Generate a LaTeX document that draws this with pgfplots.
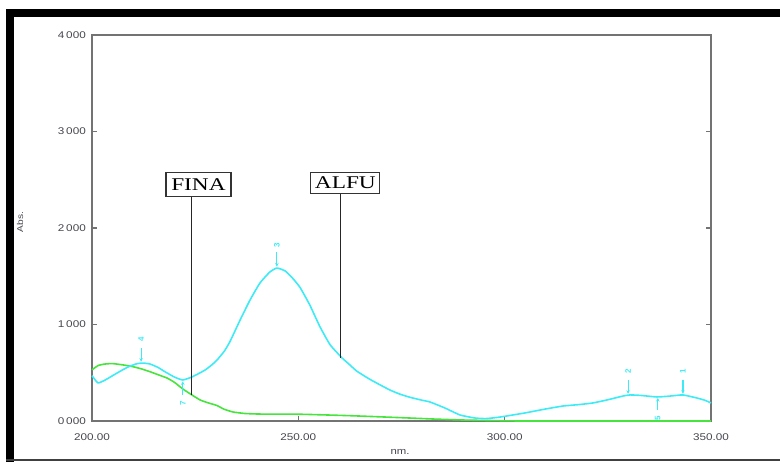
\documentclass[border=0pt]{standalone}
\usepackage{pgfplots}
\pgfplotsset{compat=1.18}
\usepackage{fontspec}
\usepackage{graphicx}
\setmainfont{Liberation Sans}
\newfontfamily\timesf{Liberation Serif}
\usetikzlibrary{arrows.meta}
\definecolor{cy}{RGB}{60,235,245}
\definecolor{gr}{RGB}{70,228,60}
\definecolor{fr}{RGB}{115,115,115}
\definecolor{tl}{RGB}{70,70,80}

\pgfplotstableread{
nm val
200.0 470
201.4 395
203.0 420
205.0 470
207.0 520
209.0 565
211.0 595
212.5 600
214.1 590
216.0 555
217.7 510
220.0 455
222.0 425
224.2 456
226.0 495
227.4 528
229.0 580
230.3 632
232.0 720
233.4 820
235.9 1047
238.3 1254
240.7 1430
243.1 1544
244.8 1585
246.8 1555
248.5 1485
250.4 1385
252.8 1200
255.2 980
257.7 790
260.6 653
262.0 600
264.0 522
265.8 472
267.4 430
270.0 370
272.2 321
274.5 280
277.1 245
280.0 215
281.9 197
285.5 135
289.2 62
292.8 31
295.5 25
298.9 41
304.9 83
306.1 93
310.0 125
314.1 155
318.0 170
321.4 187
325.0 220
328.7 259
330.4 270
333.0 265
336.9 249
340.0 258
343.2 270
346.6 238
348.5 215
350.0 187
}\alfu

\pgfplotstableread{
nm val
200.0 530
201.5 575
203.1 590
205.0 595
208.0 578
210.0 562
212.0 540
214.1 510
216.0 480
218.2 445
220.0 400
222.0 332
224.2 270
226.2 218
228.0 190
230.3 160
232.0 122
234.2 93
237.0 78
240.7 72
250.4 70
262.5 55
274.6 35
283.0 20
290.0 10
298.9 3
305.0 0
350.0 0
}\fina

\begin{document}
\begin{tikzpicture}[x=1bp,y=1bp]
\useasboundingbox (0,0) rectangle (780,464);
\fill[black] (6,447) rectangle (780,455);
\fill[black] (6,2) rectangle (14,455);
\fill[black!75] (6,2.5) rectangle (780,4.5);
\begin{axis}[
  at={(92bp,43bp)}, anchor=south west, scale only axis,
  width=619bp, height=386bp,
  xmin=200, xmax=350, ymin=0, ymax=4000,
  xtick={200,250,300,350},
  xticklabels={\scalebox{1.2}[1]{200.00},\scalebox{1.2}[1]{250.00},\scalebox{1.2}[1]{300.00},\scalebox{1.2}[1]{350.00}},
  ytick={0,1000,2000,3000,4000},
  yticklabels={\scalebox{1.2}[1]{0\,000},\scalebox{1.2}[1]{1\,000},\scalebox{1.2}[1]{2\,000},\scalebox{1.2}[1]{3\,000},\scalebox{1.2}[1]{4\,000}},
  tick align=inside, xtick pos=bottom, ytick pos=both,
  major tick length=5bp,
  axis line style={fr, line width=1.4bp},
  tick style={fr, line width=1.2bp},
  xticklabel style={font=\fontsize{9.8}{10}\selectfont, text=tl, anchor=north, inner sep=0pt, yshift=-12bp},
  yticklabel style={font=\fontsize{9.8}{10}\selectfont, text=tl, anchor=east, inner sep=0pt, xshift=-6bp},
  clip=false,
]
\addplot[gr, line width=1.6bp, line join=round, smooth, tension=0.3] table[x=nm, y=val] {\fina};
\addplot[cy, line width=1.6bp, line join=round, smooth, tension=0.3] table[x=nm, y=val] {\alfu};

% peak / valley markers
\begin{scope}[every node/.style={font=\bfseries\fontsize{8}{8}\selectfont, text=cy, rotate=90, inner sep=0pt}]
\draw[cy, line width=1.1bp, -{Stealth[length=3.5bp,width=3.5bp]}] (axis cs:211.9,756) -- (axis cs:211.9,615);
\node at (axis cs:211.9,845) {4};
\draw[cy, line width=1.1bp, -{Stealth[length=3.5bp,width=3.5bp]}] (axis cs:222.0,269) -- (axis cs:222.0,410);
\node at (axis cs:222.0,180) {7};
\draw[cy, line width=1.1bp, -{Stealth[length=3.5bp,width=3.5bp]}] (axis cs:244.8,1751) -- (axis cs:244.8,1600);
\node at (axis cs:244.8,1820) {3};
\draw[cy, line width=1.1bp, -{Stealth[length=3.5bp,width=3.5bp]}] (axis cs:329.9,425) -- (axis cs:329.9,282);
\node at (axis cs:329.9,515) {2};
\draw[cy, line width=1.1bp, -{Stealth[length=3.5bp,width=3.5bp]}] (axis cs:343.2,425) -- (axis cs:343.2,282);
\node at (axis cs:343.2,515) {1};
\draw[cy, line width=1.1bp, -{Stealth[length=3.5bp,width=3.5bp]}] (axis cs:337.1,114) -- (axis cs:337.1,238);
\node at (axis cs:337.1,28) {5};
\end{scope}

% component labels
\draw[black!85, line width=1.2bp] (axis cs:224.2,2320) -- (axis cs:224.2,270);
\draw[black!85, line width=1.2bp] (axis cs:260.3,2350) -- (axis cs:260.3,653);
\node[draw=black!80, line width=1.2bp, fill=white, minimum width=65bp, minimum height=24bp, inner sep=0pt,
  font=\timesf\fontsize{18}{18}\selectfont] at (axis cs:225.8,2451) {\scalebox{1.3}[1]{FINA}};
\node[draw=black!80, line width=1.2bp, fill=white, minimum width=69bp, minimum height=21bp, inner sep=0pt,
  font=\timesf\fontsize{18}{18}\selectfont] at (axis cs:261.4,2466) {\scalebox{1.3}[1]{ALFU}};
\end{axis}
\node[rotate=90, font=\fontsize{8.5}{9}\selectfont, text=tl] at (20,242) {\scalebox{1.2}[1]{Abs.}};
\node[font=\fontsize{9.5}{10}\selectfont, text=tl] at (400,12) {\scalebox{1.2}[1]{nm.}};
\end{tikzpicture}
\end{document}
